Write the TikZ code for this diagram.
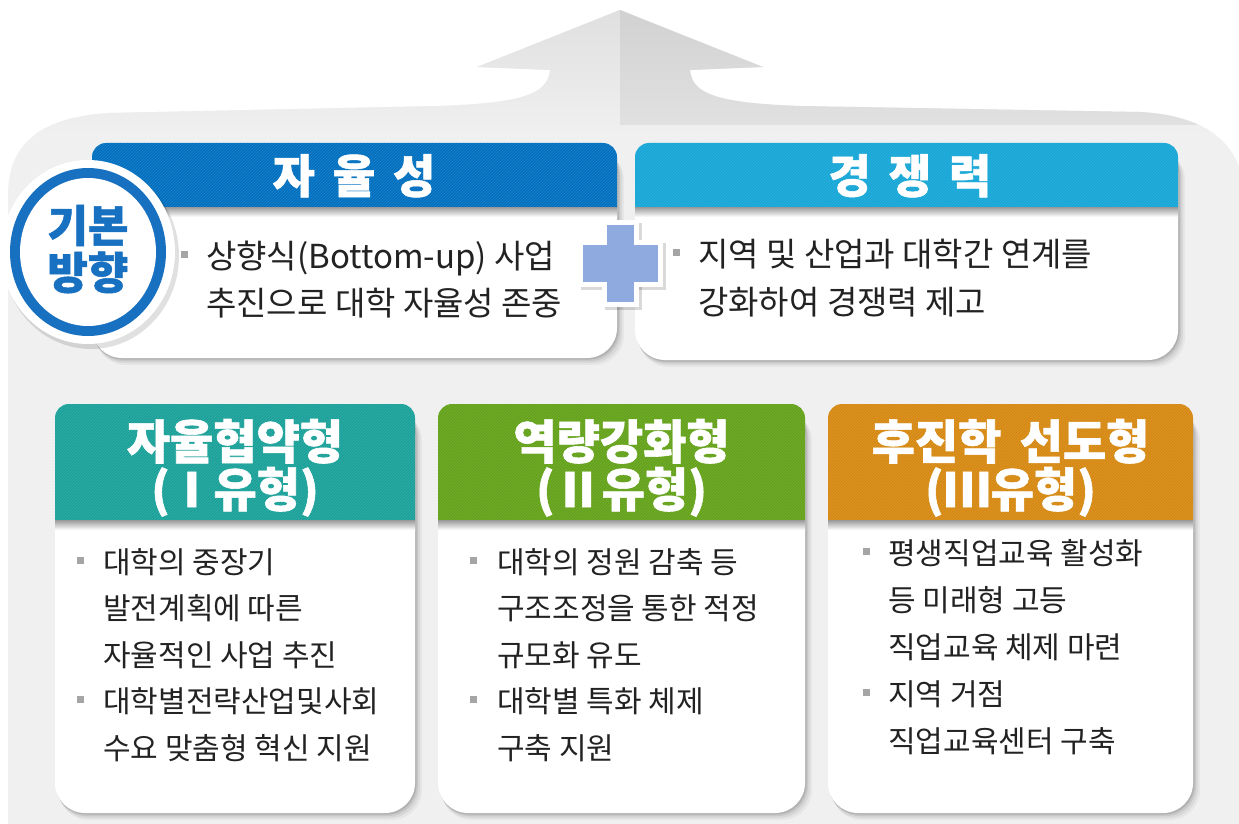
\documentclass[tikz,border=0pt]{standalone}
\usepackage{fontspec}
\setmainfont{Noto Sans CJK KR}
\newfontfamily\hfont[BoldFeatures={FakeBold=1.2}]{Noto Sans CJK KR}
\newfontfamily\widefont[WordSpace=1.7,BoldFeatures={FakeBold=1.2}]{Noto Sans CJK KR}
\usetikzlibrary{patterns}
\definecolor{blueA}{RGB}{0,112,192}
\definecolor{blueB}{RGB}{22,166,214}
\definecolor{tealC}{RGB}{26,161,153}
\definecolor{greenC}{RGB}{100,162,26}
\definecolor{orangeC}{RGB}{214,137,18}
\definecolor{ringblue}{RGB}{24,112,192}
\definecolor{plusblue}{RGB}{142,170,222}
\definecolor{panelgray}{RGB}{240,240,240}
\definecolor{arrowgray}{RGB}{222,222,222}
\definecolor{txtgray}{RGB}{34,34,34}
\definecolor{bulgray}{RGB}{165,165,165}

\newcommand\cardbox[6]{% #1 x1, #2 ytop, #3 ymid, #4 x2, #5 ybot, #6 colour
  \foreach \k/\o in {7/0.04,5/0.06,3/0.08,1.5/0.10}{
    \fill[black,opacity=\o,rounded corners=30] (#1+\k*0.5,#2+\k) rectangle (#4+\k,#5+\k);}
  \fill[white,rounded corners=30] (#1,#2) rectangle (#4,#5);
  \begin{scope}
    \clip (#1-1,#2-1) rectangle (#4+1,#3);
    \fill[#6,rounded corners=14] (#1,#2) rectangle (#4,#3+30);
    \fill[pattern=north east lines,pattern color=white,opacity=0.12,rounded corners=14] (#1,#2) rectangle (#4,#3+30);
  \end{scope}
  \shade[top color=black!40,bottom color=white] (#1,#3) rectangle (#4,#3+10);
}
\newcommand\bulsq[2]{\fill[bulgray] (#1-3.5,#2-3.5) rectangle (#1+3.5,#2+3.5);}

\tikzset{
  hdtext/.style={text=white,font=\hfont\bfseries\fontsize{47}{47}\selectfont,anchor=base,inner sep=0},
  hdwide/.style={text=white,font=\widefont\bfseries\fontsize{46}{46}\selectfont,anchor=base,inner sep=0},
  circtext/.style={text=ringblue,font=\hfont\bfseries\fontsize{44}{44}\selectfont,anchor=base,inner sep=0},
  toptext/.style={text=txtgray,font=\fontsize{33}{33}\selectfont,anchor=base west,inner sep=0},
  bodytext/.style={text=txtgray,font=\fontsize{30}{30}\selectfont,anchor=base west,inner sep=0},
}

\begin{document}
\begin{tikzpicture}[x=1pt,y=-1pt]
\useasboundingbox (0,0) rectangle (1239,824);
\fill[white] (0,0) rectangle (1239,824);

% big panel with upward arrow
\def\panelpath{(8,830) -- (8,195) .. controls (8,140) and (45,117) .. (110,113) -- (440,106) .. controls (520,103) and (548,95) .. (550,70) -- (477,67) -- (620,10) -- (763,67) -- (690,70) .. controls (692,95) and (720,103) .. (800,106) -- (1140,112) .. controls (1200,115) and (1245,140) .. (1245,200) -- (1245,830) -- cycle}
\fill[panelgray] \panelpath;
\begin{scope}
  \clip \panelpath;
  \shade[top color=arrowgray,bottom color=panelgray] (0,0) rectangle (1245,135);
  \fill[black,opacity=0.06] (620,0) rectangle (1245,125);
\end{scope}

% top cards
\cardbox{92}{143}{207}{617}{358}{blueA}
\cardbox{635}{143}{207}{1178}{360}{blueB}

% circle
\fill[black,opacity=0.12] (91,256) ellipse [x radius=88, y radius=93];
\fill[white] (88,252) ellipse [x radius=87, y radius=92];
\fill[ringblue] (88,252) ellipse [x radius=78, y radius=84];
\fill[white] (88,252) ellipse [x radius=68, y radius=74];
\node[circtext] (c1) at (88,242) {기본};
\node[circtext] (c2) at (88,289) {방향};

% plus sign
\fill[black,opacity=0.15] (581,243) rectangle (666,290);
\fill[black,opacity=0.15] (605,223) rectangle (642,310);
\fill[white] (578,240) rectangle (663,287);
\fill[white] (602,220) rectangle (639,307);
\fill[plusblue] (583,245) rectangle (658,282);
\fill[plusblue] (607,225) rectangle (634,302);

% top card texts
\node[hdwide] (h1) at (354,193) {자 율 성};
\node[hdwide] (h2) at (910,193) {경 쟁 력};
\bulsq{184.5}{254}
\node[toptext] (a1) at (206,268) {상향식(Bottom-up) 사업};
\node[toptext] (a2) at (206,315) {추진으로 대학 자율성 존중};
\bulsq{676}{252}
\node[toptext] (b1) at (698,266) {지역 및 산업과 대학간 연계를};
\node[toptext] (b2) at (698,314) {강화하여 경쟁력 제고};

% bottom cards
\cardbox{55}{404}{520}{415}{813}{tealC}
\cardbox{438}{404}{520}{805}{813}{greenC}
\cardbox{828}{404}{520}{1193}{813}{orangeC}

\node[hdtext] (h3) at (235,459) {자율협약형};
\node[hdtext] (h4) at (235,507) {( \kern-20pt Ⅰ \kern-20pt 유형)};
\node[hdtext] (h5) at (621.5,459) {역량강화형};
\node[hdtext] (h6) at (621.5,507) {(Ⅱ유형)};
\node[hdtext] (h7) at (1010.5,459) {후진학 선도형};
\node[hdtext] (h8) at (1010.5,507) {(Ⅲ유형)};

% box I text
\bulsq{80}{560}
\node[bodytext] (p1) at (103,573) {대학의 중장기};
\node[bodytext] (p2) at (103,619) {발전계획에 따른};
\node[bodytext] (p3) at (103,666) {자율적인 사업 추진};
\bulsq{80}{699}
\node[bodytext] (p4) at (103,712) {대학별전략산업및사회};
\node[bodytext] (p5) at (103,759) {수요 맞춤형 혁신 지원};

% box II text
\bulsq{473.5}{560}
\node[bodytext] (q1) at (497,573) {대학의 정원 감축 등};
\node[bodytext] (q2) at (497,619) {구조조정을 통한 적정};
\node[bodytext] (q3) at (497,666) {규모화 유도};
\bulsq{473.5}{699}
\node[bodytext] (q4) at (497,712) {대학별 특화 체제};
\node[bodytext] (q5) at (497,759) {구축 지원};

% box III text
\bulsq{866.5}{551}
\node[bodytext] (r1) at (888,564) {평생직업교육 활성화};
\node[bodytext] (r2) at (888,611) {등 미래형 고등};
\node[bodytext] (r3) at (888,658) {직업교육 체제 마련};
\bulsq{866.5}{692}
\node[bodytext] (r4) at (888,705) {지역 거점};
\node[bodytext] (r5) at (888,752) {직업교육센터  구축};
\end{tikzpicture}
\end{document}
